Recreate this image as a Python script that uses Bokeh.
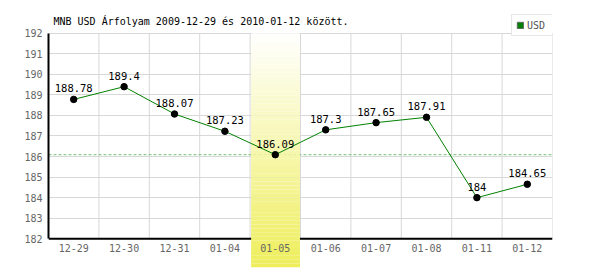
from bokeh.plotting import figure
from bokeh.models import Range1d, FixedTicker, LinearAxis, Legend, LegendItem, Label
from bokeh.core.properties import value
from bokeh.embed import file_html
from bokeh.resources import INLINE

# ---- data ----
title_text = "MNB USD Árfolyam 2009-12-29 és 2010-01-12 között."
dates = ["12-29", "12-30", "12-31", "01-04", "01-05",
         "01-06", "01-07", "01-08", "01-11", "01-12"]
rates = [188.78, 189.4, 188.07, 187.23, 186.09,
         187.3, 187.65, 187.91, 184.0, 184.65]
highlight = "01-05"
y_ticks = [182, 183, 184, 185, 186, 187, 188, 189, 190, 191, 192]
series_name = "USD"

# ---- layout constants ----
MONO = "DejaVu Sans Mono"
GRID = "#d8d8d8"
y_view_top = 193.01     # frame reaches above the chart area (legend/title room)
y_view_bottom = 180.60  # frame reaches below the axis so the highlight covers the labels
title_y = 192.57

n = len(dates)
xs = [i + 0.5 for i in range(n)]
labels = [f"{v:g}" for v in rates]
y_min, y_max = y_ticks[0], y_ticks[-1]
hi = dates.index(highlight)
hi_val = rates[hi]

p = figure(width=600, height=270, output_backend="svg", toolbar_location=None,
           x_range=Range1d(0, n), y_range=Range1d(y_view_bottom, y_view_top),
           x_axis_location=None,
           min_border_left=48, min_border_right=48, min_border_top=12, min_border_bottom=3)
p.outline_line_color = None
p.background_fill_color = "white"
p.border_fill_color = "white"

# grids
p.xgrid.visible = False
p.ygrid.ticker = FixedTicker(ticks=y_ticks)
p.ygrid.grid_line_color = GRID

# y axis
ya = p.yaxis[0]
ya.ticker = FixedTicker(ticks=y_ticks)
ya.bounds = (y_min, y_max)
ya.axis_line_color = "black"
ya.axis_line_width = 2
ya.major_tick_line_color = None
ya.minor_tick_line_color = None
ya.major_tick_out = 0
ya.major_tick_in = 0
ya.major_label_text_font = MONO
ya.major_label_text_font_size = "10px"
ya.major_label_text_color = "#666666"
ya.major_label_standoff = 6

# x axis at y = y_min inside the frame
xa = LinearAxis(fixed_location=y_min, ticker=FixedTicker(ticks=xs),
                major_label_overrides={x: d for x, d in zip(xs, dates)})
xa.axis_line_color = None
xa.major_tick_line_color = None
xa.minor_tick_line_color = None
xa.major_tick_out = 0
xa.major_tick_in = 0
xa.major_label_text_font = MONO
xa.major_label_text_font_size = "10px"
xa.major_label_text_color = "#666666"
xa.major_label_standoff = 5
p.add_layout(xa, "below")

# title
p.add_layout(Label(x=0, y=title_y, x_offset=5, text=title_text,
                   text_font=MONO, text_font_size="10px", text_color="black",
                   text_baseline="alphabetic"))

# vertical grid lines (stop at the axis)
vx = list(range(1, n + 1))
p.segment(x0=vx, y0=[y_min] * len(vx), x1=vx, y1=[y_max] * len(vx),
          line_color=GRID, line_width=1)
# x axis base line
p.segment(x0=[0], y0=[y_min], x1=[n], y1=[y_min], line_color="black", line_width=2)
# reference dashed line at highlighted value
p.segment(x0=[0], y0=[hi_val], x1=[n], y1=[hi_val], line_color="#77c077",
          line_width=1, line_dash="3 2")

# highlight band with vertical gradient
steps = 60
span = y_max - y_view_bottom
bots, tops, cols = [], [], []
top_rgb = (255, 255, 255)
bot_rgb = (238, 238, 92)
for k in range(steps):
    t = (k + 0.5) / steps  # 0 at top, 1 at bottom
    c = tuple(round(top_rgb[j] + (bot_rgb[j] - top_rgb[j]) * t) for j in range(3))
    tops.append(y_max - span * k / steps)
    bots.append(y_max - span * (k + 1) / steps)
    cols.append("#%02x%02x%02x" % c)
p.quad(left=[hi + 0.02] * steps, right=[hi + 0.99] * steps, top=tops, bottom=bots,
       fill_color=cols, line_color=None)

# series
p.line(xs, rates, line_color="#008000", line_width=1)
p.scatter(xs, rates, size=6.5, fill_color="black", line_color="black")
p.text(xs, rates, text=labels, text_align="center", text_baseline="alphabetic",
       y_offset=-11, text_font=value(MONO), text_font_size="10.5px",
       text_color="black")

# legend (swatch renderer has no drawable point)
nan = float("nan")
swatch = p.quad(left=[nan], right=[nan], top=[nan], bottom=[nan],
                fill_color="#008000", line_color="#666666")
legend = Legend(items=[LegendItem(label=series_name, renderers=[swatch])],
                location=(463, 231), glyph_width=8, glyph_height=8, padding=4,
                label_standoff=3, label_width=22, label_height=12, spacing=0,
                margin=0, border_line_color="#d0d0d0", background_fill_alpha=1,
                label_text_font=MONO, label_text_font_size="10px",
                label_text_color="#555555")
p.add_layout(legend)

open("out.html", "w").write(file_html(p, INLINE))
